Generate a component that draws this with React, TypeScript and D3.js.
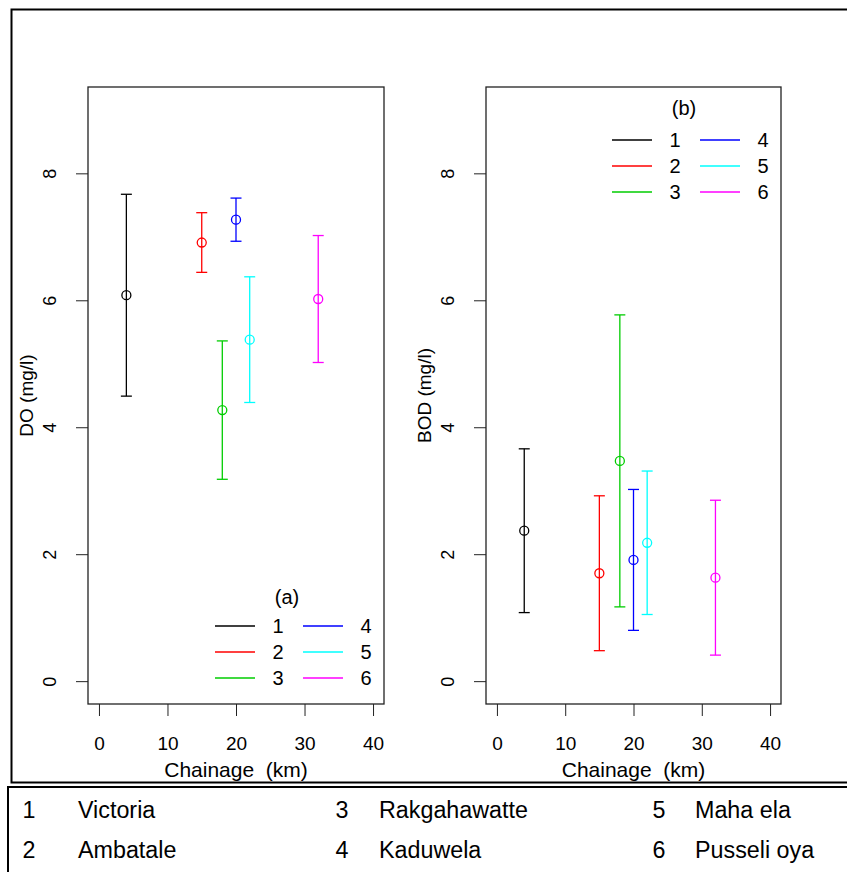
import React, {useEffect, useRef} from "react"
import * as d3 from "d3"

// sites along the river
const siteIds = ["1", "2", "3", "4", "5", "6"]
const siteNames = ["Victoria", "Ambatale", "Rakgahawatte", "Kaduwela", "Maha ela", "Pusseli oya"]
const siteColors = ["#000000", "#FF0000", "#00CD00", "#0000FF", "#00FFFF", "#FF00FF"]
const chainage = [4, 15, 18, 20, 22, 32]

// DO (mg/l): mean and half-width of the error bar
const doMean = [6.08, 6.91, 4.27, 7.27, 5.38, 6.02]
const doErr = [1.59, 0.47, 1.09, 0.34, 0.99, 1.0]

// BOD (mg/l)
const bodMean = [2.37, 1.7, 3.47, 1.91, 2.18, 1.63]
const bodErr = [1.29, 1.22, 2.3, 1.11, 1.13, 1.22]

const xTicks = [0, 10, 20, 30, 40]
const yTicks = [0, 2, 4, 6, 8]

const W = 847
const H = 872
const FONT = "'Liberation Sans', Arial, Helvetica, sans-serif"

interface Panel {
    left: number
    right: number
    yLabel: string
    tag: string
    mean: number[]
    err: number[]
    legendX: number
    legendY: number
    tagY: number
}

const top = 87
const bottom = 704

const panels: Panel[] = [
    {left: 88, right: 384, yLabel: "DO (mg/l)", tag: "(a)", mean: doMean, err: doErr, legendX: 215, legendY: 626, tagY: 597},
    {left: 486, right: 781, yLabel: "BOD (mg/l)", tag: "(b)", mean: bodMean, err: bodErr, legendX: 612, legendY: 140, tagY: 108},
]

const App = () => {
    const ref = useRef<SVGSVGElement>(null)

    useEffect(() => {
        const svg = d3.select(ref.current)
        svg.selectAll("*").remove()

        // outer frame and site table
        svg.append("rect")
            .attr("x", 11.5).attr("y", 9.5).attr("width", W + 20).attr("height", 773)
            .attr("fill", "none").attr("stroke", "#000").attr("stroke-width", 2)
        svg.append("rect")
            .attr("x", 8).attr("y", 787).attr("width", W + 20).attr("height", 120)
            .attr("fill", "none").attr("stroke", "#000").attr("stroke-width", 2)

        const table = svg.append("g").attr("font-family", FONT).attr("font-size", 23.3).attr("fill", "#000")
        const colNum = [29, 342, 659]
        const colName = [78, 379, 695]
        siteIds.forEach((id, i) => {
            const col = Math.floor(i / 2)
            const row = i % 2
            const y = row === 0 ? 818 : 858
            table.append("text").attr("x", colNum[col]).attr("y", y).attr("text-anchor", "middle").text(id)
            table.append("text").attr("x", colName[col]).attr("y", y).text(siteNames[i])
        })

        panels.forEach(p => {
            const x = d3.scaleLinear().domain([-1.6, 41.6]).range([p.left, p.right])
            const y = d3.scaleLinear().domain([-0.36, 9.36]).range([bottom, top])
            const g = svg.append("g")

            // x axis
            const xa = g.append("g")
                .attr("transform", `translate(0, ${bottom})`)
                .call(d3.axisBottom(x).tickValues(xTicks).tickSize(12).tickSizeOuter(0))
            xa.select(".domain").remove()
            xa.selectAll("line").attr("stroke", "#222")
            xa.selectAll("text")
                .attr("y", 46).attr("dy", null)
                .attr("font-family", FONT).attr("font-size", 19).attr("fill", "#000")

            // y axis with rotated labels
            const ya = g.append("g")
                .attr("transform", `translate(${p.left}, 0)`)
                .call(d3.axisLeft(y).tickValues(yTicks).tickSize(12).tickSizeOuter(0))
            ya.select(".domain").remove()
            ya.selectAll("line").attr("stroke", "#222")
            ya.selectAll("text")
                .attr("x", null).attr("dy", null)
                .attr("text-anchor", "middle")
                .attr("transform", "translate(-32, 0) rotate(-90)")
                .attr("font-family", FONT).attr("font-size", 18).attr("fill", "#000")

            // box
            g.append("rect")
                .attr("x", p.left).attr("y", top)
                .attr("width", p.right - p.left).attr("height", bottom - top)
                .attr("fill", "none").attr("stroke", "#222").attr("stroke-width", 1.3)

            // axis titles
            g.append("text")
                .attr("x", (x(0) + x(40)) / 2).attr("y", 777)
                .attr("text-anchor", "middle")
                .attr("font-family", FONT).attr("font-size", 21)
                .style("white-space", "pre")
                .text("Chainage  (km)")
            g.append("text")
                .attr("transform", `translate(${p.left - 55}, ${(top + bottom) / 2}) rotate(-90)`)
                .attr("text-anchor", "middle")
                .attr("font-family", FONT).attr("font-size", 19)
                .text(p.yLabel)

            // error bars
            const bars = g.selectAll("g.bar")
                .data(siteIds.map((_, i) => i))
                .join("g").classed("bar", true)
                .attr("stroke", i => siteColors[i])
                .attr("stroke-width", 1.3)
                .attr("fill", "none")
            bars.append("line")
                .attr("x1", i => x(chainage[i])).attr("x2", i => x(chainage[i]))
                .attr("y1", i => y(p.mean[i] - p.err[i])).attr("y2", i => y(p.mean[i] + p.err[i]))
            bars.append("line")
                .attr("x1", i => x(chainage[i]) - 5.5).attr("x2", i => x(chainage[i]) + 5.5)
                .attr("y1", i => y(p.mean[i] + p.err[i])).attr("y2", i => y(p.mean[i] + p.err[i]))
            bars.append("line")
                .attr("x1", i => x(chainage[i]) - 5.5).attr("x2", i => x(chainage[i]) + 5.5)
                .attr("y1", i => y(p.mean[i] - p.err[i])).attr("y2", i => y(p.mean[i] - p.err[i]))
            bars.append("circle")
                .attr("cx", i => x(chainage[i])).attr("cy", i => y(p.mean[i]))
                .attr("r", 4.5)

            // legend
            const lg = g.append("g").attr("font-family", FONT).attr("font-size", 20)
            lg.append("text")
                .attr("x", p.legendX + 72).attr("y", p.tagY + 7)
                .attr("text-anchor", "middle").text(p.tag)
            siteIds.forEach((id, i) => {
                const col = Math.floor(i / 3)
                const row = i % 3
                const lx = p.legendX + col * 88
                const ly = p.legendY + row * 26
                lg.append("line")
                    .attr("x1", lx).attr("x2", lx + 40)
                    .attr("y1", ly).attr("y2", ly)
                    .attr("stroke", siteColors[i]).attr("stroke-width", 1.5)
                lg.append("text")
                    .attr("x", lx + 63).attr("y", ly + 7)
                    .attr("text-anchor", "middle").text(id)
            })
        })
    }, [])

    return (
        <svg
            ref={ref}
            width={W}
            height={H}
            viewBox={`0 0 ${W} ${H}`}
            style={{position: "absolute", left: 0, top: 0, background: "#fff"}}
        />
    )
}

export default App
